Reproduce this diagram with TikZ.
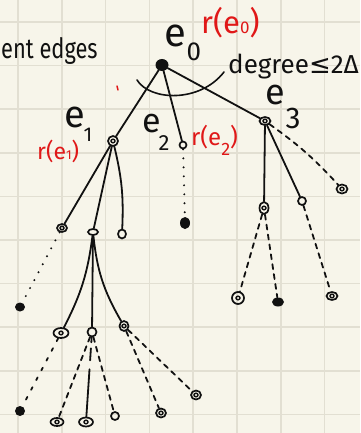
\documentclass[tikz,border=0pt]{standalone}
\usepackage{fontspec}
\setmainfont{Fira Sans}
\newfontfamily\symfont{DejaVu Sans}
\usetikzlibrary{shapes.geometric}
\definecolor{paper}{HTML}{F7F5EA}
\definecolor{gridline}{HTML}{E2DFD2}
\definecolor{ink}{HTML}{111111}
\definecolor{inkred}{HTML}{E01818}
\newcommand{\fs}[1]{\fontsize{#1}{#1}\selectfont}
\begin{document}
\begin{tikzpicture}[x=1pt,y=-1pt,
  edge/.style={ink, line width=1.8pt, line cap=round},
  dashedge/.style={edge, dash pattern=on 5pt off 5pt},
  dotedge/.style={ink, line width=2.2pt, line cap=round, dash pattern=on 0pt off 9pt},
  ring/.style={ellipse, draw=ink, line width=1.7pt, inner sep=0pt, minimum width=9pt, minimum height=8pt},
  ringtwo/.style={ring, path picture={\draw[ink, line width=1.4pt] (path picture bounding box.center) ellipse (2pt and 1.8pt);}},
  blob/.style={ellipse, fill=ink, inner sep=0pt, minimum width=9pt, minimum height=9pt},
  hand/.style={text=ink, inner sep=0pt},
  redhand/.style={text=inkred, inner sep=0pt}]
\useasboundingbox (0,0) rectangle (360,433);
\fill[paper] (0,0) rectangle (360,433);
% grid paper
\foreach \gx in {18,61.8,...,360} \draw[gridline, line width=1.6pt] (\gx,0) -- (\gx,433);
\foreach \gy in {22,65.6,...,433} \draw[gridline, line width=1.6pt] (0,\gy) -- (360,\gy);

% root and first level
\node[blob, minimum width=13pt, minimum height=12pt] (e0) at (162,65) {};
\node[ringtwo, minimum width=10pt, minimum height=10pt] (e1) at (113,141) {};
\node[ring, minimum width=7pt, minimum height=7pt] (e2) at (183,145) {};
\node[ringtwo, minimum width=11pt, minimum height=8pt] (e3) at (265,121) {};

% second level
\node[ringtwo, minimum width=10pt, minimum height=8pt] (a1) at (62,228) {};
\node[ring, minimum width=10pt, minimum height=6pt] (a2) at (93,232) {};
\node[ring, minimum width=8pt, minimum height=9pt] (a3) at (122,234) {};
\node[blob, minimum width=10pt, minimum height=12pt] (n2) at (185,223) {};
\node[ringtwo, minimum width=9pt, minimum height=12pt] (b1) at (264,208) {};
\node[ring, minimum width=8pt, minimum height=8pt] (b2) at (302,201) {};
\node[ringtwo, minimum width=11pt, minimum height=9pt] (b3) at (342,189) {};

% third level
\node[blob, minimum width=10pt, minimum height=9pt] (g1) at (20,307) {};
\node[ringtwo, minimum width=15pt, minimum height=10pt] (c1) at (61,333) {};
\node[ring, minimum width=9pt, minimum height=9pt] (c2) at (92,332) {};
\node[ringtwo, minimum width=9pt, minimum height=10pt] (c3) at (124,326) {};
\node[ringtwo, minimum width=12pt, minimum height=12pt] (s1) at (238,298) {};
\node[blob, minimum width=12pt, minimum height=9pt] (s2) at (278,302) {};
\node[ringtwo, minimum width=11pt, minimum height=8pt] (s3) at (332,296) {};

% fourth level
\node[blob, minimum width=10pt, minimum height=10pt] (h1) at (20,411) {};
\node[ringtwo, minimum width=13pt, minimum height=8pt] (h2) at (57,422) {};
\node[ringtwo, minimum width=14pt, minimum height=9pt] (h3) at (86,422) {};
\node[ring, minimum width=8pt, minimum height=8pt] (h4) at (115,416) {};
\node[ringtwo, minimum width=10pt, minimum height=9pt] (h5) at (161,413) {};
\node[ringtwo, minimum width=10pt, minimum height=9pt] (h6) at (196,395) {};

% edges
\draw[edge] (e0) -- (e1);
\draw[edge] (e0) -- (e2);
\draw[edge] (e0) -- (e3);
\draw[edge] (e1) -- (a1);
\draw[edge] (e1) -- (a2);
\draw[edge] (e1) to[bend left=8] (a3);
\draw[edge] (a2) to[bend left=10] (c1);
\draw[edge] (a2) -- (c2);
\draw[edge] (a2) to[bend right=12] (c3);
\draw[dotedge] (a1) -- (g1);
\draw[dotedge] (e2) -- (n2);
\draw[edge] (e3) -- (b1);
\draw[edge] (e3) -- (b2);
\draw[dashedge] (e3) to[bend left=6] (b3);
\draw[dashedge] (b1) -- (s1);
\draw[dashedge] (b1) -- (s2);
\draw[dashedge] (b2) -- (s3);
\draw[edge, dash pattern=on 3pt off 8pt] (c1) -- (h1);
\draw[dashedge] (c2) -- (h2);
\draw[edge, dash pattern=on 5pt off 6pt on 12pt off 9pt on 60pt] (c2) -- (h3);
\draw[dashedge] (c2) -- (h4);
\draw[dashedge] (c3) -- (h5);
\draw[dashedge] (c3) -- (h6);

% degree brace around the edges of e0
\draw[edge, line width=1.6pt] (137,80) .. controls (150,101) and (200,103) .. (224,72);
\draw[inkred, line width=1.5pt, line cap=round] (117,86) -- (118,90);

% labels
\node[hand, font=\fs{40}] (l0) at (175,36) {e};
\node[hand, font=\fs{26}] (l0s) at (194,52) {0};
\node[hand, font=\fs{38}] (l1) at (75,117) {e};
\node[hand, font=\fs{20}] (l1s) at (88,135) {1};
\node[hand, font=\fs{34}] (l2) at (152,124) {e};
\node[hand, font=\fs{22}] (l2s) at (164,143) {2};
\node[hand, font=\fs{36}] (l3) at (275,95) {e};
\node[hand, font=\fs{30}] (l3s) at (293,118) {3};

\node[redhand, font=\fs{31}, anchor=west] (r0) at (201,23) {r(e{\fs{17}0})};
\node[redhand, font=\fs{23}, anchor=west] (r1) at (37,151) {r(e{\fs{13}1})};
\node[redhand, font=\fs{24}, anchor=west] (r2) at (191,140) {r(e{\fs{18}\raisebox{-10pt}{2}})};

\node[hand, font=\fs{26}, anchor=base west] (deg) at (228,74) {degree{\symfont ≤}2Δ};
\node[hand, font=\fs{28}, anchor=base west] (adj) at (1,59) {\scalebox{0.78}[1]{ent edges}};
\end{tikzpicture}
\end{document}
